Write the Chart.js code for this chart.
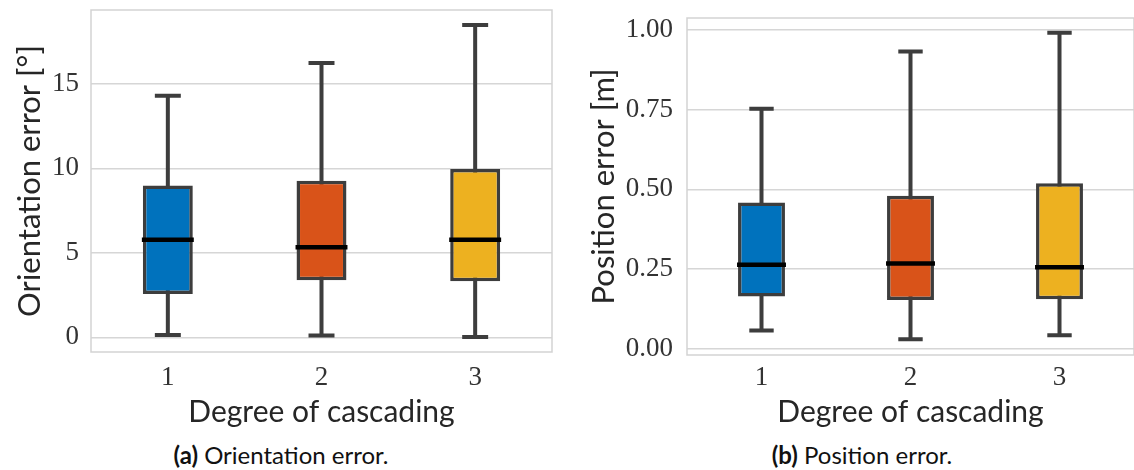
<!DOCTYPE html>
<html>
<head>
<meta charset="utf-8">
<script src="https://cdn.jsdelivr.net/npm/chart.js@4.4.1/dist/chart.umd.min.js"></script>
<style>
  html, body { margin: 0; padding: 0; background: #fff; overflow: hidden; }
  body { width: 1134px; height: 470px; position: relative; }
  .panel { position: absolute; top: 0; height: 440px; }
  .caption { position: absolute; top: 440px; font-family: Lato, 'Open Sans', sans-serif; font-size: 24px; color: #111; white-space: nowrap; transform: translateX(-50%); }
  .caption b { font-weight: 700; }
</style>
</head>
<body>
<div class="panel" style="left:0; width:560px;"><canvas id="orientChart"></canvas></div>
<div class="panel" style="left:570px; width:566px;"><canvas id="posChart"></canvas></div>
<div class="caption" style="left:281px;"><b>(a)</b> Orientation error.</div>
<div class="caption" style="left:862px;"><b>(b)</b> Position error.</div>

<script>
// Data
const categories = ['1', '2', '3'];
const boxColors = ['#0072BD', '#D95319', '#EDB120'];

const orientLow = [0.14, 0.10, 0.02];
const orientQ1 = [2.56, 3.37, 3.31];
const orientMed = [5.77, 5.33, 5.77];
const orientQ3 = [8.98, 9.27, 9.96];
const orientHigh = [14.29, 16.24, 18.48];
const orientTicks = [0, 5, 10, 15];

const posLow = [0.058, 0.030, 0.043];
const posQ1 = [0.164, 0.153, 0.156];
const posMed = [0.264, 0.268, 0.256];
const posQ3 = [0.459, 0.480, 0.519];
const posHigh = [0.753, 0.932, 0.991];
const posTicks = [0, 0.25, 0.5, 0.75, 1.0];

// Whiskers, caps, medians and the frame round the plot area
const boxParts = {
    id: 'boxParts',
    beforeDatasetsDraw(chart, args, opts) {
        const ctx = chart.ctx;
        const y = chart.scales.y;
        const meta = chart.getDatasetMeta(0);
        ctx.save();
        ctx.strokeStyle = '#3d3d3d';
        ctx.lineWidth = 4;
        ctx.lineCap = 'butt';
        meta.data.forEach((bar, i) => {
            const capHalf = bar.width * 0.26;
            const yLow = y.getPixelForValue(opts.low[i]);
            const yHigh = y.getPixelForValue(opts.high[i]);
            ctx.beginPath();
            ctx.moveTo(bar.x, yLow);
            ctx.lineTo(bar.x, yHigh);
            ctx.moveTo(bar.x - capHalf, yLow);
            ctx.lineTo(bar.x + capHalf, yLow);
            ctx.moveTo(bar.x - capHalf, yHigh);
            ctx.lineTo(bar.x + capHalf, yHigh);
            ctx.stroke();
        });
        ctx.restore();
    },
    afterDatasetsDraw(chart, args, opts) {
        const ctx = chart.ctx;
        const y = chart.scales.y;
        const meta = chart.getDatasetMeta(0);
        ctx.save();
        ctx.strokeStyle = '#000';
        ctx.lineWidth = 4.5;
        meta.data.forEach((bar, i) => {
            const yMed = y.getPixelForValue(opts.med[i]);
            ctx.beginPath();
            ctx.moveTo(bar.x - bar.width / 2 - 1, yMed);
            ctx.lineTo(bar.x + bar.width / 2 + 1, yMed);
            ctx.stroke();
        });
        const a = chart.chartArea;
        ctx.strokeStyle = '#d3d3d3';
        ctx.lineWidth = 1.5;
        ctx.strokeRect(a.left, a.top, a.right - a.left, a.bottom - a.top);
        ctx.restore();
    }
};

function makeBoxChart(id, q1, q3, low, med, high, ticks, yMin, yMax, yTitle, opt) {
    new Chart(document.getElementById(id), {
        type: 'bar',
        data: {
            labels: categories,
            datasets: [{
                data: q1.map((v, i) => [v, q3[i]]),
                backgroundColor: boxColors,
                borderColor: '#3d3d3d',
                borderWidth: 3.5,
                borderSkipped: false,
                categoryPercentage: 1,
                barPercentage: opt.barPct,
            }],
        },
        options: {
            responsive: true,
            maintainAspectRatio: false,
            animation: false,
            layout: { padding: opt.padding },
            plugins: {
                legend: { display: false },
                tooltip: { enabled: false },
                boxParts: { low, med, high },
            },
            scales: {
                x: {
                    offset: true,
                    grid: { display: false, drawTicks: false },
                    border: { display: false },
                    ticks: {
                        color: '#333',
                        padding: opt.xTickPad,
                        font: { family: "'Liberation Serif', serif", size: 27 },
                    },
                    title: {
                        display: true,
                        text: 'Degree of cascading',
                        color: '#262626',
                        padding: 0,
                        font: { family: "Lato, sans-serif", size: 30 },
                    },
                    afterFit(scale) {
                        scale.height = opt.xHeight;
                        scale.paddingLeft = 0;
                        scale.paddingRight = 0;
                    },
                },
                y: {
                    min: yMin,
                    max: yMax,
                    grid: { color: '#d6d6d6', lineWidth: 1.5, drawTicks: false },
                    border: { display: false },
                    afterBuildTicks(scale) { scale.ticks = ticks.map(v => ({ value: v })); },
                    ticks: {
                        color: '#333',
                        padding: opt.yTickPad,
                        font: { family: "'Liberation Serif', serif", size: 27 },
                        callback: opt.fmt,
                    },
                    title: {
                        display: true,
                        text: yTitle,
                        color: '#262626',
                        padding: 0,
                        font: { family: "Lato, sans-serif", size: 31 },
                    },
                    afterFit(scale) {
                        scale.width = opt.yWidth;
                        scale.paddingTop = 0;
                        scale.paddingBottom = 0;
                    },
                },
            },
        },
        plugins: [boxParts],
    });
}

makeBoxChart('orientChart', orientQ1, orientQ3, orientLow, orientMed, orientHigh, orientTicks,
    -0.87, 19.37, 'Orientation error [°]', {
        barPct: 0.325,
        padding: { left: 11, top: 10, right: 8, bottom: 10 },
        xHeight: 78, yWidth: 80, xTickPad: 10, yTickPad: 12,
        fmt: v => String(v),
    });

makeBoxChart('posChart', posQ1, posQ3, posLow, posMed, posHigh, posTicks,
    -0.019, 1.037, 'Position error [m]', {
        barPct: 0.315,
        padding: { left: 15, top: 18, right: 2, bottom: 10 },
        xHeight: 75, yWidth: 102, xTickPad: 7, yTickPad: 14,
        fmt: v => Number(v).toFixed(2),
    });
</script>
</body>
</html>
